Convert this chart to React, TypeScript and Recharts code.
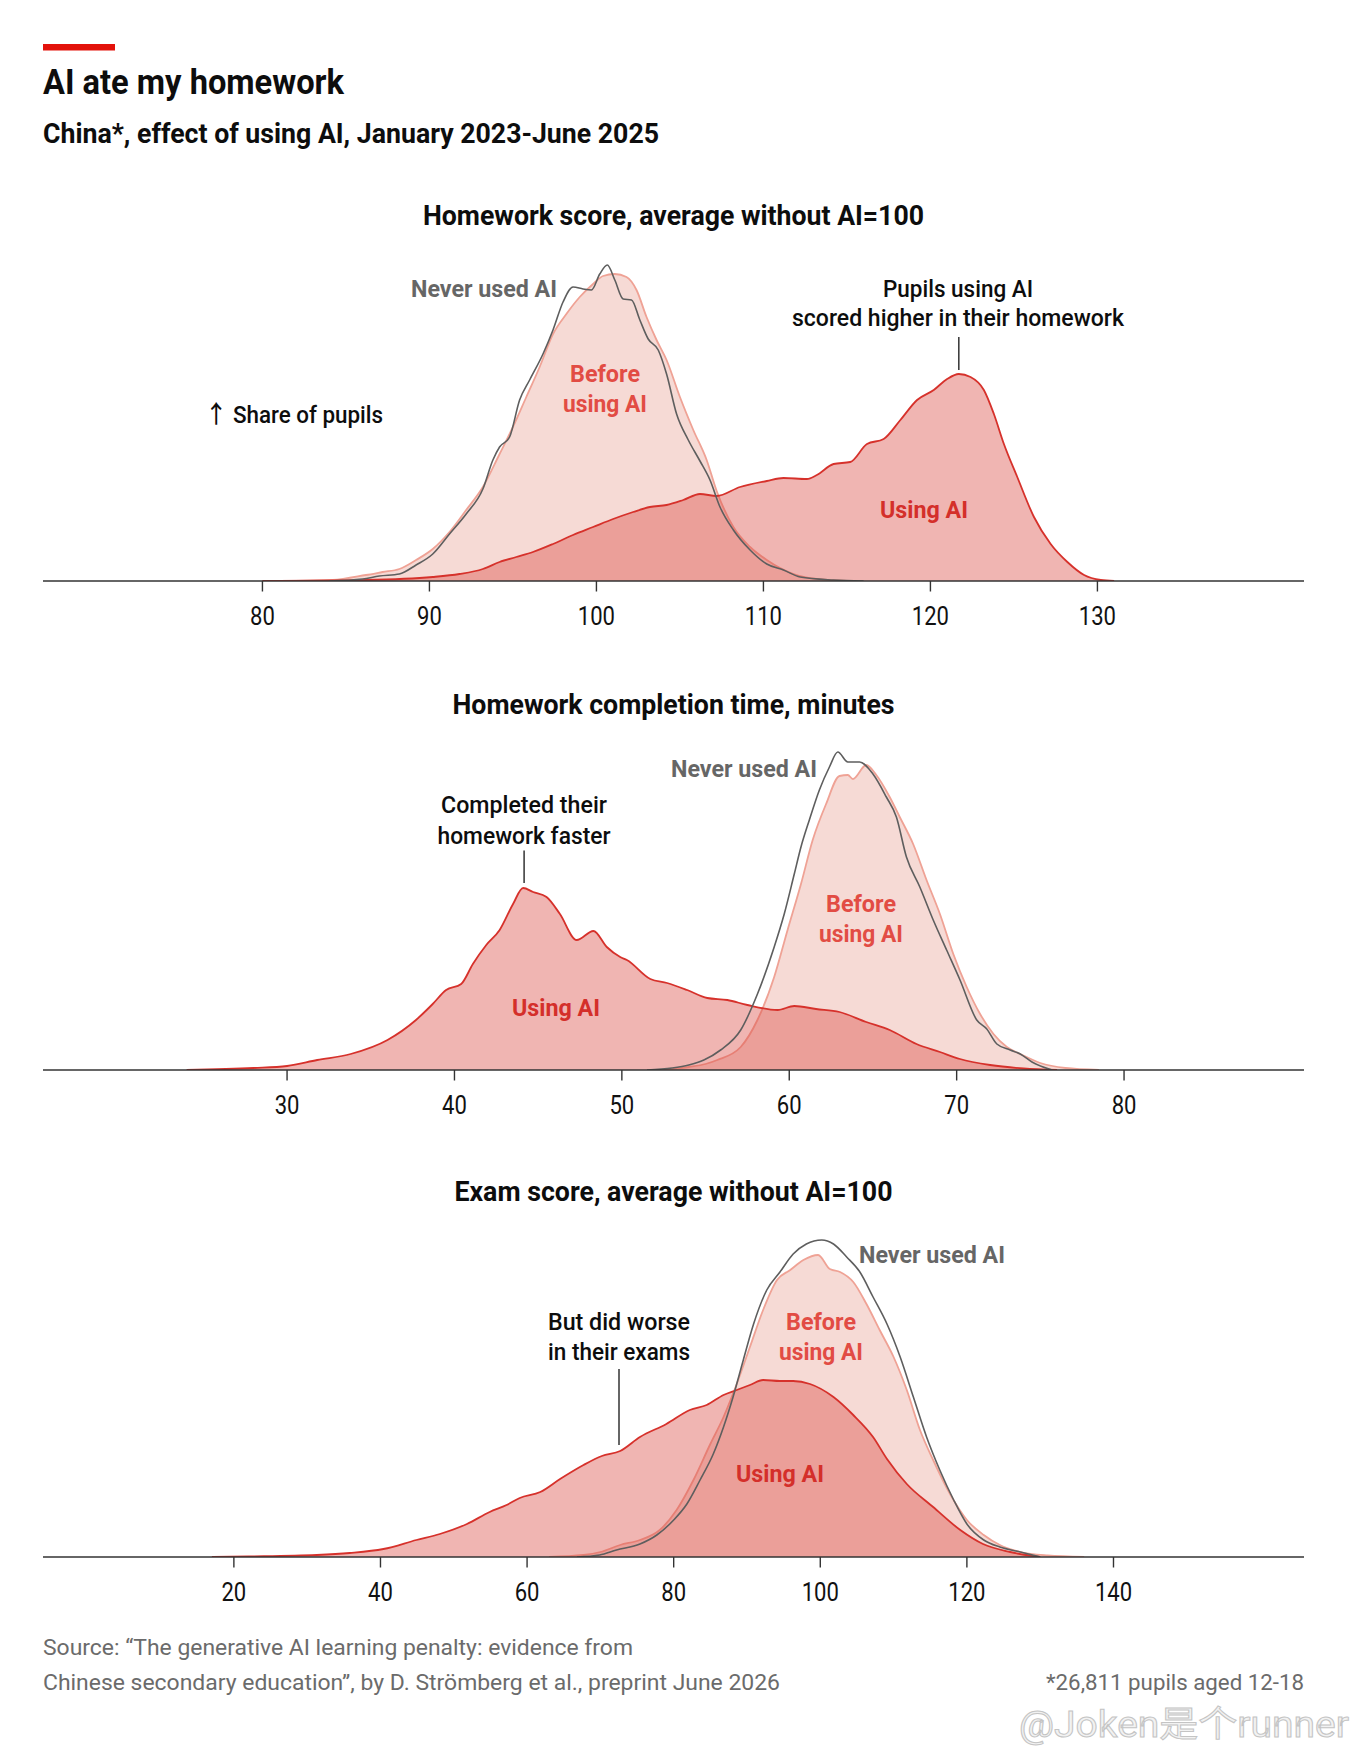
import { ComposedChart, Area, Line, XAxis, YAxis, ReferenceLine } from "recharts";

type Pt = [number, number];

const FONT = "Roboto, 'Noto Sans', 'Noto Sans CJK SC', sans-serif";

// Homework score, average without AI = 100 (x = score, y = relative share of pupils)
const scoreTicks = [80, 90, 100, 110, 120, 130];
const scoreNever: Pt[] = [
  [84, 0], [86, 2], [87, 5], [88.2, 7], [89.2, 16], [90.2, 27], [91.2, 47], [92.2, 67],
  [93.2, 92], [93.8, 121], [94.2, 134], [94.8, 144], [95.4, 181], [96, 201], [96.8, 227],
  [97.4, 251], [98, 279], [98.6, 294], [99.2, 292], [99.7, 291], [100.2, 307], [100.65, 316],
  [101.1, 301], [101.6, 282], [102.1, 281], [102.6, 261], [103.1, 242], [103.7, 231],
  [104.2, 207], [104.8, 167], [105.5, 141], [106.2, 120], [106.8, 101], [107.4, 74],
  [108.2, 51], [109.2, 31], [110.2, 17], [111.2, 11], [112.2, 4], [114.2, 1], [116, 0],
];
const scoreBefore: Pt[] = [
  [82, 0], [84.2, 1], [86.2, 6], [87.2, 9], [88.2, 12], [89.2, 21], [90.2, 32], [91.2, 49],
  [92.2, 71], [93.2, 94], [94.2, 127], [95, 154], [95.8, 184], [96.6, 214], [97.4, 247],
  [98.2, 267], [99, 284], [99.8, 297], [100.4, 305], [101.1, 307], [101.8, 304], [102.4, 291],
  [103, 264], [103.6, 241], [104.2, 221], [105, 184], [105.8, 151], [106.6, 121], [107.2, 90],
  [108.2, 54], [109.2, 34], [110.2, 21], [111.8, 7], [113.2, 2], [115, 0],
];
const scoreUsing: Pt[] = [
  [80, 0], [86.2, 1], [90.2, 4], [91.8, 7], [93.2, 12], [94.2, 19], [95.2, 24], [96.2, 29],
  [97.4, 37], [98.6, 46], [99.8, 54], [101, 62], [102.2, 69], [103.2, 74], [104.2, 76],
  [105.2, 81], [106.2, 87], [107.2, 85], [108.6, 94], [110.2, 100], [111.2, 103], [112.6, 102],
  [113.2, 106], [114.2, 117], [115.2, 119], [116.2, 137], [117.2, 142], [118.2, 161],
  [119.2, 181], [120.2, 191], [121, 202], [121.7, 207], [122.4, 204], [123.2, 191],
  [123.8, 167], [124.4, 137], [125.2, 104], [126.2, 64], [127.2, 37], [128.2, 19],
  [129.2, 6], [130.2, 1], [131, 0],
];

// Homework completion time, minutes
const timeTicks = [30, 40, 50, 60, 70, 80];
const timeNever: Pt[] = [
  [51.5, 0], [53, 2], [54, 5], [54.9, 10], [55.9, 20], [57.1, 40], [58.1, 76], [59.1, 123],
  [59.7, 156], [60.3, 196], [60.7, 223], [61.2, 250], [61.8, 280], [62.4, 303], [62.9, 318],
  [63.5, 308], [64.2, 308], [65, 296], [65.8, 273], [66.4, 253], [67, 213], [67.8, 183],
  [68.6, 150], [69.4, 120], [70.2, 90], [71.2, 50], [71.8, 41], [72.4, 26], [73.2, 20],
  [73.8, 16], [74.5, 8], [75.7, 0],
];
const timeBefore: Pt[] = [
  [52.5, 0], [54, 3], [55, 6], [55.7, 10], [57.1, 23], [58.1, 50], [59.1, 93], [59.9, 140],
  [60.7, 186], [61.4, 230], [62.2, 266], [63, 294], [63.5, 295], [63.8, 291], [64.6, 305],
  [65.2, 295], [66, 273], [66.6, 253], [67.4, 226], [68.2, 190], [69, 156], [69.8, 116],
  [70.6, 83], [71.4, 56], [72.2, 36], [73, 23], [73.8, 16], [75, 7], [76.5, 2], [78.5, 0],
];
const timeUsing: Pt[] = [
  [24, 0], [28, 2], [30, 4], [31.8, 10], [33.8, 16], [36, 30], [37.7, 50], [38.7, 66],
  [39.5, 80], [40.4, 86], [41.1, 106], [41.9, 125], [42.7, 140], [43.5, 166], [44.1, 182],
  [44.7, 178], [45.5, 173], [46.3, 156], [47.3, 130], [48.3, 139], [49.1, 123], [49.9, 113],
  [50.3, 110], [51.7, 91], [52.7, 87], [53.9, 80], [55.1, 72], [56.3, 70], [57.5, 65],
  [59.3, 60], [60.3, 64], [61.6, 61], [63, 58], [64.6, 48], [66, 40], [67.6, 26], [69, 18],
  [70.2, 11], [72, 5], [74, 1.5], [76, 0],
];

// Exam score, average without AI = 100
const examTicks = [20, 40, 60, 80, 100, 120, 140];
const examNever: Pt[] = [
  [66.8, 0], [69.9, 2], [72.2, 7], [75.4, 13], [77.7, 22], [80, 37], [81.8, 53], [83.6, 77],
  [85.4, 103], [86.8, 130], [88.1, 160], [89.5, 197], [90.9, 233], [92.7, 267], [94.5, 285],
  [96.3, 303], [98.1, 313], [100.2, 317], [101.8, 313], [103.6, 300], [105.4, 285],
  [107.2, 260], [109.1, 233], [110.9, 200], [112.7, 160], [114.5, 120], [116.3, 87],
  [118.2, 57], [120, 33], [122.3, 17], [124.5, 10], [127.3, 5], [130, 0],
];
const examBefore: Pt[] = [
  [63, 0], [67.7, 2], [70, 5], [72.7, 12], [75.4, 17], [78.1, 27], [80.4, 47], [82.7, 77],
  [85, 113], [86.8, 140], [88.6, 173], [90.4, 210], [92.2, 247], [94.1, 277], [95.9, 287],
  [97.7, 297], [99.7, 302], [101.3, 288], [102.7, 285], [104.5, 275], [106.3, 253],
  [108.1, 227], [110, 200], [111.8, 167], [113.6, 127], [115.4, 97], [117.7, 63], [120, 37],
  [122.3, 22], [124.5, 12], [127.3, 5], [131, 1.5], [136, 0],
];
const examUsing: Pt[] = [
  [17, 0], [22, 0.5], [31.3, 2], [35.8, 4], [40.4, 8], [44.9, 17], [48.1, 23], [51.8, 33],
  [54.9, 45], [57.2, 52], [59, 59], [61.8, 65], [64.5, 78], [67.7, 92], [70.2, 101],
  [72.7, 106], [75.4, 120], [79, 133], [82.2, 147], [84.5, 152], [86.8, 162], [88.6, 167],
  [90.4, 172], [92.2, 177], [94.5, 176], [96.3, 176], [98.6, 173], [101.8, 160], [104.5, 142],
  [107.2, 120], [109.1, 98], [111.8, 73], [115.4, 50], [119.1, 27], [122.2, 13], [125.9, 5],
  [130, 0],
];

const rows = (pts: Pt[]) => pts.map(([x, y]) => ({ x, y }));

// condensed-looking tick label: Roboto squeezed to the narrow width of the original face
function AxisTick({ x, y, payload }: any) {
  const label = String(payload.value);
  return (
    <text
      x={x}
      y={y}
      dy={33}
      textAnchor="middle"
      fontSize={26}
      fontFamily={FONT}
      fill="#111"
      textLength={label.length * 12.4}
      lengthAdjust="spacingAndGlyphs"
    >
      {label}
    </text>
  );
}

interface PanelProps {
  top: number;
  domain: [number, number];
  ticks: number[];
  never: Pt[];
  before: Pt[];
  using: Pt[];
  pointer: [Pt, Pt];
}

function DensityPanel({ top, domain, ticks, never, before, using, pointer }: PanelProps) {
  return (
    <div style={{ position: "absolute", left: 0, top }}>
      <ComposedChart
        width={1358}
        height={400}
        margin={{ top: 0, right: 54, bottom: 0, left: 43 }}
      >
        <XAxis
          type="number"
          dataKey="x"
          domain={domain}
          ticks={ticks}
          allowDataOverflow
          height={60}
          tickSize={10.5}
          tickMargin={0}
          axisLine={{ stroke: "#333", strokeWidth: 1.6 }}
          tickLine={{ stroke: "#333", strokeWidth: 1.4 }}
          tick={<AxisTick />}
        />
        <YAxis type="number" domain={[0, 340]} hide allowDataOverflow />
        <Area
          data={rows(before)}
          dataKey="y"
          type="monotone"
          fill="#f6dad5"
          fillOpacity={1}
          stroke="#efa295"
          strokeWidth={1.8}
          dot={false}
          activeDot={false}
          isAnimationActive={false}
        />
        <Area
          data={rows(using)}
          dataKey="y"
          type="monotone"
          fill="#dc4f48"
          fillOpacity={0.42}
          stroke="#d6312b"
          strokeWidth={1.8}
          dot={false}
          activeDot={false}
          isAnimationActive={false}
        />
        <Line
          data={rows(never)}
          dataKey="y"
          type="monotone"
          stroke="#5e5e5e"
          strokeWidth={1.6}
          dot={false}
          activeDot={false}
          isAnimationActive={false}
        />
        <ReferenceLine
          segment={[
            { x: pointer[0][0], y: pointer[0][1] },
            { x: pointer[1][0], y: pointer[1][1] },
          ]}
          stroke="#333"
          strokeWidth={1.5}
        />
      </ComposedChart>
    </div>
  );
}

const GREY = "#666666";
const LIGHT_RED = "#e24c44";
const RED = "#d42f2a";
const FOOT = "#6b6b6b";

export default function App() {
  // every label is squeezed to the width measured on the original
  const t = (
    x: number,
    y: number,
    text: string,
    opts: {
      size?: number;
      weight?: number;
      fill?: string;
      anchor?: "start" | "middle" | "end";
      len?: number;
    } = {}
  ) => (
    <text
      key={`${text}-${x}-${y}`}
      x={x}
      y={y}
      fontSize={opts.size ?? 24.5}
      fontWeight={opts.weight ?? 500}
      fill={opts.fill ?? "#0d0d0d"}
      textAnchor={opts.anchor ?? "start"}
      textLength={opts.len}
      lengthAdjust="spacingAndGlyphs"
    >
      {text}
    </text>
  );

  return (
    <div
      style={{
        position: "relative",
        width: 1358,
        height: 1754,
        background: "#fff",
        fontFamily: FONT,
        overflow: "hidden",
      }}
    >
      <style>{"body{margin:0;background:#fff}"}</style>

      <DensityPanel
        top={241}
        domain={[66.86, 142.37]}
        ticks={scoreTicks}
        never={scoreNever}
        before={scoreBefore}
        using={scoreUsing}
        pointer={[[121.7, 211], [121.7, 244]]}
      />
      <DensityPanel
        top={729.5}
        domain={[15.42, 90.75]}
        ticks={timeTicks}
        never={timeNever}
        before={timeBefore}
        using={timeUsing}
        pointer={[[44.16, 187], [44.16, 219.5]]}
      />
      <DensityPanel
        top={1216.7}
        domain={[-6.04, 165.99]}
        ticks={examTicks}
        never={examNever}
        before={examBefore}
        using={examUsing}
        pointer={[[72.54, 112], [72.54, 188]]}
      />

      <svg
        width={1358}
        height={1754}
        style={{ position: "absolute", left: 0, top: 0, pointerEvents: "none" }}
        fontFamily={FONT}
      >
        <rect x={43} y={44} width={72} height={6.5} fill="#e3120b" />
        {t(43, 94, "AI ate my homework", { size: 34.5, weight: 700, len: 301 })}
        {t(43, 143, "China*, effect of using AI, January 2023-June 2025", { size: 27, weight: 700, len: 616 })}

        {t(673.5, 225, "Homework score, average without AI=100", { size: 27, weight: 700, anchor: "middle", len: 501 })}
        {t(673.5, 714, "Homework completion time, minutes", { size: 27, weight: 700, anchor: "middle", len: 442 })}
        {t(673.5, 1201, "Exam score, average without AI=100", { size: 27, weight: 700, anchor: "middle", len: 438 })}

        {/* panel 1 labels */}
        {t(557, 297, "Never used AI", { weight: 700, fill: GREY, anchor: "end", len: 146 })}
        {t(605, 381.5, "Before", { weight: 700, fill: LIGHT_RED, anchor: "middle", len: 70 })}
        {t(605, 411.5, "using AI", { weight: 700, fill: LIGHT_RED, anchor: "middle", len: 84 })}
        {t(205, 423, "\u2191 Share of pupils", { len: 178 })}
        {t(958, 296.5, "Pupils using AI", { anchor: "middle", len: 150 })}
        {t(958, 326, "scored higher in their homework", { anchor: "middle", len: 332 })}
        {t(924, 518, "Using AI", { weight: 700, fill: RED, anchor: "middle", len: 88 })}

        {/* panel 2 labels */}
        {t(817, 776.5, "Never used AI", { weight: 700, fill: GREY, anchor: "end", len: 146 })}
        {t(524, 813, "Completed their", { anchor: "middle", len: 166 })}
        {t(524, 844, "homework faster", { anchor: "middle", len: 173 })}
        {t(861, 911.5, "Before", { weight: 700, fill: LIGHT_RED, anchor: "middle", len: 70 })}
        {t(861, 942, "using AI", { weight: 700, fill: LIGHT_RED, anchor: "middle", len: 84 })}
        {t(556, 1016, "Using AI", { weight: 700, fill: RED, anchor: "middle", len: 88 })}

        {/* panel 3 labels */}
        {t(859, 1263, "Never used AI", { weight: 700, fill: GREY, len: 146 })}
        {t(619, 1330, "But did worse", { anchor: "middle", len: 142 })}
        {t(619, 1360, "in their exams", { anchor: "middle", len: 142 })}
        {t(821, 1329.5, "Before", { weight: 700, fill: LIGHT_RED, anchor: "middle", len: 70 })}
        {t(821, 1359.5, "using AI", { weight: 700, fill: LIGHT_RED, anchor: "middle", len: 84 })}
        {t(780, 1481.5, "Using AI", { weight: 700, fill: RED, anchor: "middle", len: 88 })}

        {/* footer */}
        {t(43, 1655, "Source: \u201cThe generative AI learning penalty: evidence from", { size: 22, weight: 400, fill: FOOT, len: 590 })}
        {t(43, 1690, "Chinese secondary education\u201d, by D. Str\u00f6mberg et al., preprint June 2026", { size: 22, weight: 400, fill: FOOT, len: 737 })}
        {t(1304, 1690, "*26,811 pupils aged 12-18", { size: 22, weight: 400, fill: FOOT, anchor: "end", len: 258 })}
        <text
          x={1349}
          y={1737}
          fontSize={36}
          textAnchor="end"
          fill="#f2f2f2"
          stroke="#c4c4c4"
          strokeWidth={1}
          fontFamily={FONT}
          textLength={330}
          lengthAdjust="spacingAndGlyphs"
        >
          @Joken是个runner
        </text>
      </svg>
    </div>
  );
}
